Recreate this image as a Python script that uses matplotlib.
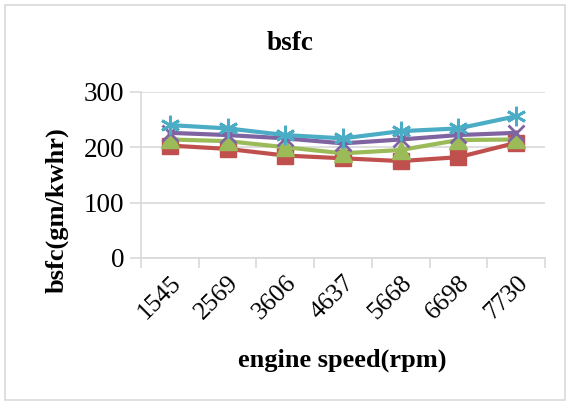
import matplotlib
matplotlib.use("Agg")
import matplotlib.pyplot as plt
from matplotlib.patches import Rectangle
from matplotlib.transforms import ScaledTranslation

speeds = ["1545", "2569", "3606", "4637", "5668", "6698", "7730"]
red_sq = [203, 197, 185, 180, 175, 182, 208]
green_tri = [214, 211, 200, 189, 195, 213, 214]
purple_x = [226, 222, 216, 207, 214, 222, 226]
cyan_star = [240, 234, 222, 216, 229, 234, 256]

plt.rcParams["font.family"] = ["Liberation Serif", "DejaVu Serif"]

fig = plt.figure(figsize=(5.66, 4.03), dpi=100)
fig.patches.append(Rectangle((0.009, 0.008), 0.99, 0.98, transform=fig.transFigure,
                             fill=False, edgecolor="#d9d9d9", lw=1.2))
ax = fig.add_axes([0.249, 0.360, 0.714, 0.412])

x = range(len(speeds))
ax.plot(x, red_sq, color="#C0504D", lw=3, marker="s", ms=12, zorder=3)
ax.plot(x, green_tri, color="#9BBB59", lw=3, marker="^", ms=13, zorder=4)
ax.plot(x, purple_x, color="#8064A2", lw=3, marker="x", ms=11, mew=2, zorder=5)
ax.plot(x, cyan_star, color="#4BACC6", lw=3, marker=(6, 2, 0), ms=14, mew=2, zorder=6)

ax.set_ylim(0, 300)
ax.set_yticks([0, 100, 200, 300])
ax.set_xlim(-0.5, len(speeds) - 0.5)
ax.set_xticks(list(x))
ax.set_xticklabels(speeds, rotation=45, ha="right", va="top", fontsize=18.5,
                   rotation_mode="anchor")
shift = ScaledTranslation(-6 / 100, 0, fig.dpi_scale_trans)
for lbl in ax.get_xticklabels():
    lbl.set_transform(lbl.get_transform() + shift)
ax.set_xticks([i - 0.5 for i in range(len(speeds) + 1)], minor=True)
ax.tick_params(axis="x", which="major", length=0, pad=10)
ax.tick_params(axis="x", which="minor", length=7, color="#d9d9d9", width=1.2)
ax.tick_params(axis="y", labelsize=19.5, length=8, color="#d9d9d9", width=1.2, pad=4)
ax.grid(axis="y", color="#d9d9d9", lw=1.2)
ax.set_axisbelow(True)
for s in ("top", "right"):
    ax.spines[s].set_visible(False)
for s in ("left", "bottom"):
    ax.spines[s].set_color("#d9d9d9")
    ax.spines[s].set_linewidth(1.2)

fig.text(290 / 566, 1 - 44 / 403, "bsfc", ha="center", va="center",
         fontsize=19.5, fontweight="bold")
fig.text(57 / 566, 1 - 210 / 403, "bsfc(gm/kwhr)", ha="center", va="center",
         rotation=90, fontsize=19, fontweight="bold")
fig.text(342 / 566, 1 - 360 / 403, "engine speed(rpm)", ha="center", va="center",
         fontsize=19, fontweight="bold")

fig.savefig("out.png", dpi=100)
